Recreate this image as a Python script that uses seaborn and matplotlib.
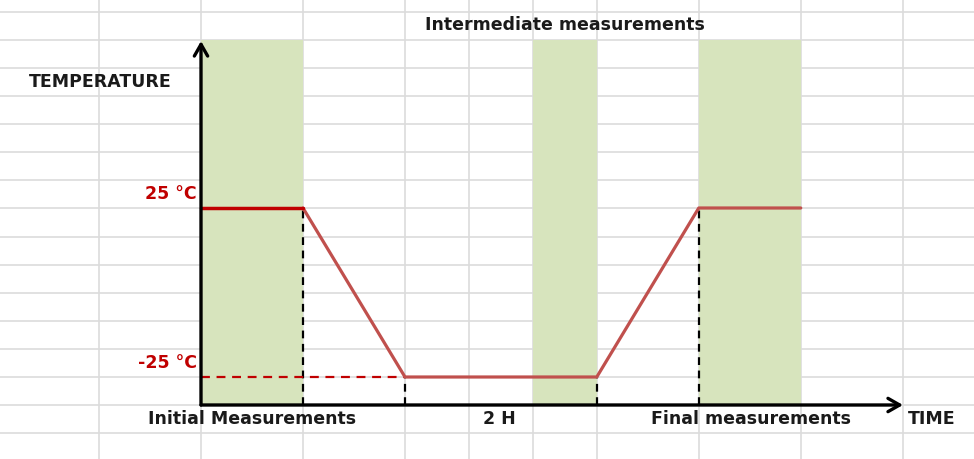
import matplotlib
matplotlib.use("Agg")
import matplotlib.pyplot as plt
import seaborn as sns
import pandas as pd

# ---------------- data ----------------
time_points = [0.0, 1.0, 2.0, 3.88, 4.88, 5.88]          # arbitrary time units
temperatures = [25, 25, -25, -25, 25, 25]                 # °C
segment = ["initial", "initial", "cycle", "cycle", "cycle", "cycle"]
band_starts = [0.0, 3.25, 4.88]
band_ends = [1.0, 3.88, 5.88]
drop_times = [1.0, 2.0, 3.88, 4.88]
drop_temps = [25, -25, -25, 25]
temp_labels = ["25 °C", "-25 °C"]
temp_label_values = [25, -25]
x_labels = ["Initial Measurements", "2 H", "Final measurements"]
x_label_pos = [0.5, 2.93, 5.39]

# ---------------- figure ----------------
sns.set_theme(style="white")
plt.rcParams["font.family"] = ["DejaVu Sans"]

W, H = 974, 459
fig = plt.figure(figsize=(W / 100, H / 100), dpi=100)

# spreadsheet-like background grid (pixel coordinates)
bg = fig.add_axes([0, 0, 1, 1])
bg.set_xlim(0, W)
bg.set_ylim(H, 0)
col_lines = [99, 201, 303, 405, 469, 533, 597, 699, 801, 903]
row_lines = [12 + 28.07 * k for k in range(16)]
bg.set_xticks(col_lines)
bg.set_yticks(row_lines)
bg.tick_params(length=0, labelbottom=False, labelleft=False)
bg.grid(True, color="#DCDCDC", linewidth=1.2)
for s in bg.spines.values():
    s.set_visible(False)
bg.set_facecolor("white")

# main chart axes, same footprint; data coords map onto pixels
ax = fig.add_axes([0, 0, 1, 1])
ax.patch.set_alpha(0)
px_per_t = 102.0
x0_px = 201.0
ax.set_xlim(-x0_px / px_per_t, (W - x0_px) / px_per_t)
px_per_deg = 3.38
ax.set_ylim(25 - (H - 208) / px_per_deg, 25 + 208 / px_per_deg)

y_axis_bottom = 25 - (405 - 208) / px_per_deg
y_top = 25 + (208 - 40) / px_per_deg
x_axis_end = (903 - x0_px) / px_per_t

# green measurement bands
for a, b in zip(band_starts, band_ends):
    ax.fill_between([a, b], y_axis_bottom, y_top, color="#D7E4BD", lw=0, zorder=1)

# dashed drop lines
ax.vlines(drop_times, y_axis_bottom, drop_temps, colors="black",
          linestyles=(0, (3.5, 2.5)), linewidth=1.6, zorder=3)
ax.hlines(-25, 0, 2.0, colors="#C00000", linestyles=(0, (4, 3)),
          linewidth=1.6, zorder=3)

# temperature profile
df = pd.DataFrame({"time": time_points, "temp": temperatures, "segment": segment})
cycle_df = df.iloc[1:]
sns.lineplot(data=cycle_df, x="time", y="temp", color="#C0504D", linewidth=2.3,
             ax=ax, zorder=4, sort=False)
sns.lineplot(data=df[df.segment == "initial"], x="time", y="temp", color="#C00000",
             linewidth=2.5, ax=ax, zorder=5, sort=False)
ax.axis("off")

# axes arrows
head = "->,head_length=0.7,head_width=0.4"
ax.annotate("", xy=(0, y_top - 0.3), xytext=(0, y_axis_bottom),
            arrowprops=dict(arrowstyle=head, color="black", lw=2.4,
                            shrinkA=0, shrinkB=0), zorder=6)
ax.annotate("", xy=(x_axis_end, y_axis_bottom), xytext=(0, y_axis_bottom),
            arrowprops=dict(arrowstyle=head, color="black", lw=2.4,
                            shrinkA=0, shrinkB=0), zorder=6)

fs = 12.5
txt_color = "#1A1A1A"
# temperature labels
for lab, v in zip(temp_labels, temp_label_values):
    ax.text(-0.04, v + 4.0, lab, ha="right", va="center", fontsize=fs,
            fontweight="bold", color="#C00000")

ax.text((100 - x0_px) / px_per_t, 25 + (208 - 82) / px_per_deg, "TEMPERATURE",
        ha="center", va="center", fontsize=fs, fontweight="bold", color=txt_color)

label_y = 25 - (419 - 208) / px_per_deg
for lab, xp in zip(x_labels, x_label_pos):
    ax.text(xp, label_y, lab, ha="center", va="center", fontsize=fs,
            fontweight="bold", color=txt_color)
ax.text((932 - x0_px) / px_per_t, label_y, "TIME", ha="center", va="center",
        fontsize=fs, fontweight="bold", color=txt_color)
ax.text((565 - x0_px) / px_per_t, 25 + (208 - 25) / px_per_deg,
        "Intermediate measurements", ha="center", va="center", fontsize=fs,
        fontweight="bold", color=txt_color)

fig.savefig("out.png", dpi=100)
